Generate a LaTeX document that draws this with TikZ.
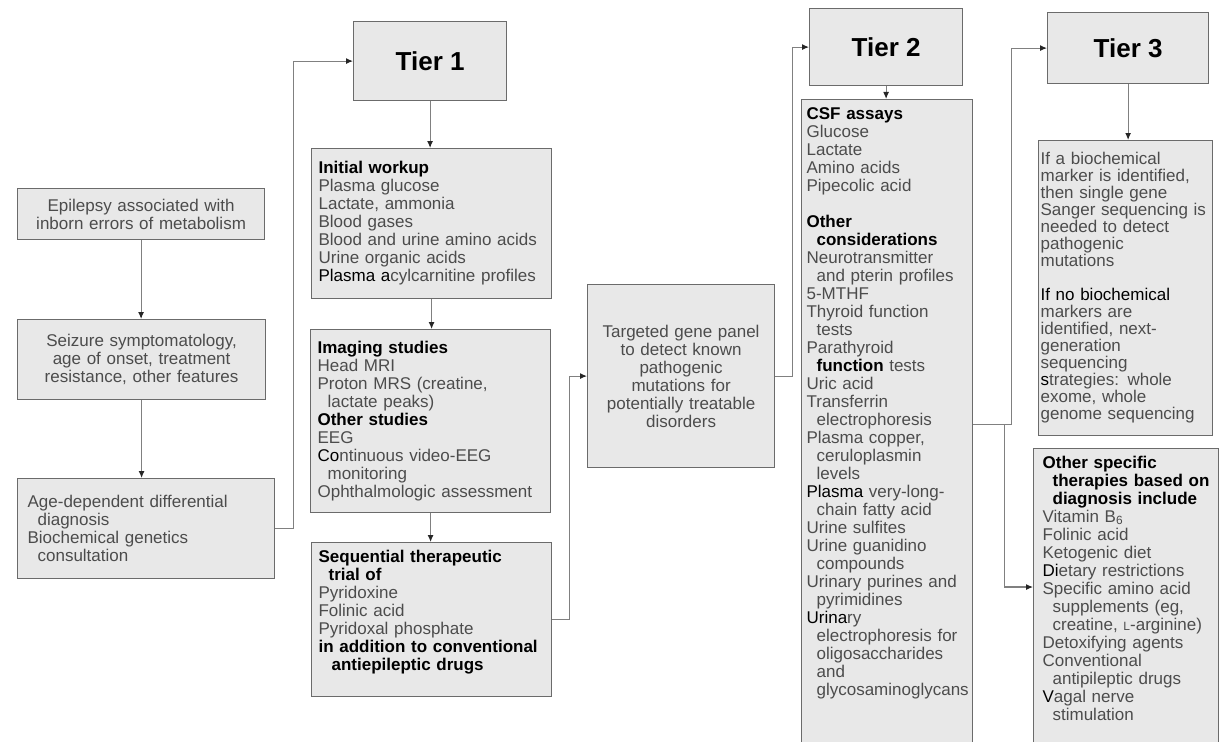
\documentclass[tikz,border=0pt]{standalone}
\usepackage{fontspec}
\setmainfont{Liberation Sans}
\usetikzlibrary{positioning,calc,arrows.meta}
\hyphenpenalty=10000
\exhyphenpenalty=10000
\tikzset{pbox/.style={draw=black!58, line width=1.2pt, fill=black!9, inner xsep=6pt, inner ysep=6pt, align=left, text=black!70, font=\fontsize{17}{18}\selectfont}}
\tikzset{cbox/.style={pbox, align=center}}
\tikzset{tierbox/.style={pbox, align=center, text=black, font=\fontsize{26}{30}\selectfont\bfseries}}
\tikzset{arr/.style={draw=black!50, line width=1.1pt, -{Latex[length=7pt,width=6pt,color=black!85]}}}
\newcommand{\hd}[1]{\textbf{\color{black}#1}}
\newcommand{\dk}[1]{{\color{black}#1}}
\newcommand{\ind}{\hspace*{10pt}}

\begin{document}
\begin{tikzpicture}[x=1pt,y=-1pt]
\useasboundingbox (0,0) rectangle (1225,741);
% left column
\node[cbox, anchor=north west, text width=235pt, minimum height=51pt] (epi) at (17,188)
  {Epilepsy associated with\\inborn errors of metabolism};
\node[cbox, anchor=north west, text width=236pt, minimum height=80pt] (seiz) at (17,319)
  {Seizure symptomatology,\\age of onset, treatment\\resistance, other features};
\node[pbox, anchor=north west, inner xsep=10pt, text width=237pt, minimum height=100pt] (age) at (17,478)
  {Age-dependent differential\\\ind diagnosis\\Biochemical genetics\\\ind consultation};
% tier 1
\node[tierbox, anchor=north west, minimum width=153pt, minimum height=79pt] (tier1) at (353,21) {Tier 1};
\node[pbox, anchor=north west, inner xsep=7pt, text width=226pt, minimum height=150pt] (iw) at (311,148)
  {\hd{Initial workup}\\Plasma glucose\\Lactate, ammonia\\Blood gases\\Blood and urine amino acids\\Urine organic acids\\\dk{Plasma a}cylcarnitine profiles};
\node[pbox, anchor=north west, inner xsep=7pt, text width=226pt, minimum height=183pt] (img) at (310,329)
  {\hd{Imaging studies}\\Head MRI\\Proton MRS (creatine,\\\ind lactate peaks)\\\hd{Other studies}\\EEG\\\dk{Co}ntinuous video-EEG\\\ind monitoring\\Ophthalmologic assessment};
\node[pbox, anchor=north west, inner xsep=7pt, text width=226pt, minimum height=154pt] (seq) at (311,542)
  {\hd{Sequential therapeutic}\\\hd{\ind trial of}\\Pyridoxine\\Folinic acid\\Pyridoxal phosphate\\\hd{in addition to conventional}\\\hd{\hspace*{13pt}antiepileptic drugs}\par\vspace{14pt}};
\node[cbox, anchor=north west, text width=175pt, minimum height=183pt] (tgt) at (587,284)
  {Targeted gene panel\\to detect known\\pathogenic\\mutations for\\potentially treatable\\disorders};
% tier 2
\node[tierbox, anchor=north west, minimum width=153pt, minimum height=77pt] (tier2) at (809,8) {Tier 2};
\node[pbox, anchor=north west, inner xsep=5pt, text width=161pt, minimum height=650pt] (csf) at (801,99)
  {\hd{CSF assays}\\Glucose\\Lactate\\Amino acids\\Pipecolic acid\\[18pt]\hd{Other}\\\hd{\ind considerations}\\Neurotransmitter\\\ind and pterin profiles\\5-MTHF\\Thyroid function\\\ind tests\\Parathyroid\\\ind\hd{function} tests\\Uric acid\\Transferrin\\\ind electrophoresis\\Plasma copper,\\\ind ceruloplasmin\\\ind levels\\\dk{Plasma} very-long-\\\ind chain fatty acid\\Urine sulfites\\Urine guanidino\\\ind compounds\\Urinary purines and\\\ind pyrimidines\\\dk{Urina}ry\\\ind electrophoresis for\\\ind oligosaccharides\\\ind and\\\ind glycosaminoglycans\par\vspace{42pt}};
% tier 3
\node[tierbox, anchor=north west, minimum width=161pt, minimum height=71pt] (tier3) at (1047,12) {Tier 3};
\node[pbox, anchor=north west, inner xsep=2pt, text width=170pt, minimum height=295pt, font=\fontsize{17}{17}\selectfont] (ifb) at (1038,140)
  {If a biochemical\\marker is identified,\\then single gene\\Sanger sequencing is\\needed to detect\\pathogenic\\mutations\\[17pt]\dk{If no biochemical}\\markers are\\identified, next-\\generation\\sequencing\\\dk{s}trategies: whole\\exome, whole\\genome sequencing};
\node[pbox, anchor=north west, inner xsep=9pt, text width=167pt, minimum height=305pt] (oth) at (1033,448)
  {\hd{Other specific}\\\hd{\ind therapies based on}\\\hd{\ind diagnosis include}\\Vitamin B\textsubscript{6}\\Folinic acid\\Ketogenic diet\\\dk{Di}etary restrictions\\Specific amino acid\\\ind supplements (eg,\\\ind creatine, {\fontsize{12}{12}\selectfont L}-arginine)\\Detoxifying agents\\Conventional\\\ind antipileptic drugs\\\dk{V}agal nerve\\\ind stimulation\par\vspace{26pt}};
% connectors
\draw[arr] (epi.south) -- (epi.south |- seiz.north);
\draw[arr] (seiz.south) -- (seiz.south |- age.north);
\draw[arr] (age.east) -- ++(18,0) |- (tier1.west);
\draw[arr] (tier1.south) -- (tier1.south |- iw.north);
\draw[arr] (iw.south) -- (iw.south |- img.north);
\draw[arr] (img.south) -- (img.south |- seq.north);
\draw[arr] (seq.east) -- ++(17,0) |- (tgt.west);
\draw[arr] (tgt.east) -- ++(17,0) |- (tier2.west);
\draw[arr] (tier2.south) -- (tier2.south |- csf.north);
\draw[arr] (csf.east) -- ++(38,0) |- (tier3.west);
\coordinate (fork) at ($(csf.east)+(31,0)$);
\coordinate (othin) at ($(oth.north west)+(0,139)$);
\draw[arr] (fork) |- (othin);
\draw[arr] (tier3.south) -- (tier3.south |- ifb.north);
\end{tikzpicture}
\end{document}
